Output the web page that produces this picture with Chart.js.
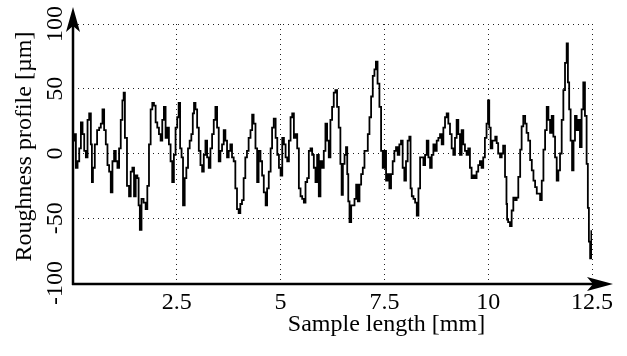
<!DOCTYPE html>
<html>
<head>
<meta charset="utf-8">
<script src="https://cdn.jsdelivr.net/npm/chart.js@4"></script>
<style>
  html, body { margin: 0; padding: 0; background: #fff; }
  #wrap { width: 627px; height: 356px; position: relative; }
</style>
</head>
<body>
<div id="wrap"><canvas id="profileChart"></canvas></div>
<script>
// Sample position along the profile [mm]
const sampleMm = [
  0.02, 0.05, 0.09, 0.13, 0.17, 0.21, 0.25, 0.29, 0.33, 0.37, 0.41, 0.45, 0.46, 0.50, 0.55, 0.61, 0.65, 0.69, 0.73, 0.77,
  0.81, 0.85, 0.89, 0.93, 0.97, 1.01, 1.05, 1.09, 1.13, 1.17, 1.21, 1.23, 1.27, 1.33, 1.37, 1.41, 1.45, 1.49, 1.53, 1.57,
  1.59, 1.63, 1.67, 1.73, 1.77, 1.81, 1.85, 1.89, 1.93, 1.97, 2.01, 2.05, 2.09, 2.13, 2.17, 2.21, 2.25, 2.29, 2.33, 2.37,
  2.41, 2.45, 2.49, 2.53, 2.56, 2.60, 2.63, 2.67, 2.71, 2.75, 2.79, 2.83, 2.87, 2.90, 2.93, 2.97, 3.01, 3.05, 3.09, 3.13,
  3.17, 3.21, 3.25, 3.29, 3.33, 3.37, 3.41, 3.45, 3.49, 3.53, 3.57, 3.61, 3.65, 3.69, 3.73, 3.77, 3.81, 3.85, 3.89, 3.93,
  3.97, 4.01, 4.05, 4.09, 4.13, 4.17, 4.21, 4.25, 4.30, 4.33, 4.37, 4.42, 4.45, 4.49, 4.54, 4.57, 4.62, 4.66, 4.69, 4.74,
  4.78, 4.81, 4.86, 4.90, 4.94, 4.98, 5.02, 5.06, 5.10, 5.14, 5.18, 5.22, 5.26, 5.30, 5.34, 5.38, 5.42, 5.46, 5.50, 5.54,
  5.58, 5.62, 5.66, 5.70, 5.74, 5.78, 5.82, 5.86, 5.90, 5.94, 5.98, 6.02, 6.06, 6.10, 6.14, 6.18, 6.22, 6.26, 6.30, 6.34,
  6.38, 6.42, 6.46, 6.48, 6.52, 6.56, 6.59, 6.62, 6.64, 6.68, 6.72, 6.76, 6.80, 6.84, 6.88, 6.92, 6.96, 7.00, 7.04, 7.08,
  7.12, 7.16, 7.20, 7.24, 7.28, 7.31, 7.36, 7.40, 7.44, 7.48, 7.52, 7.56, 7.60, 7.64, 7.68, 7.72, 7.76, 7.80, 7.84, 7.88,
  7.92, 7.96, 8.00, 8.04, 8.08, 8.12, 8.14, 8.18, 8.22, 8.26, 8.30, 8.34, 8.38, 8.42, 8.46, 8.50, 8.54, 8.58, 8.62, 8.66,
  8.70, 8.74, 8.78, 8.82, 8.86, 8.90, 8.94, 8.98, 9.02, 9.06, 9.10, 9.14, 9.18, 9.22, 9.26, 9.30, 9.34, 9.38, 9.42, 9.46,
  9.50, 9.54, 9.58, 9.62, 9.66, 9.70, 9.74, 9.78, 9.82, 9.86, 9.90, 9.94, 9.98, 10.01, 10.04, 10.08, 10.12, 10.15, 10.19, 10.22,
  10.26, 10.31, 10.34, 10.38, 10.43, 10.45, 10.46, 10.50, 10.55, 10.58, 10.63, 10.67, 10.70, 10.75, 10.79, 10.82, 10.87, 10.91, 10.94, 10.99,
  11.03, 11.07, 11.11, 11.15, 11.19, 11.23, 11.27, 11.31, 11.35, 11.39, 11.43, 11.47, 11.51, 11.55, 11.59, 11.63, 11.67, 11.71, 11.75, 11.79,
  11.83, 11.87, 11.91, 11.93, 11.97, 12.00, 12.04, 12.07, 12.11, 12.15, 12.19, 12.23, 12.27, 12.31, 12.35, 12.39, 12.41, 12.44, 12.47, 12.50
];

// Roughness profile height [um]
const profileUm = [
  10, 15, -11, -6, 4, 24, 15, 2, -3, 26, 31, 7, -22, -11, 7, 18, 20, 23, 34, 18,
  7, -9, -14, -30, -6, 2, -6, -11, 4, 26, 41, 47, 12, -25, -33, -14, -11, -33, -17, -19,
  -40, -59, -35, -38, -43, -25, 7, 34, 39, 37, 24, 20, 15, 10, 26, 36, 12, 20, 7, -6,
  -22, -1, 20, 28, 39, 4, -3, -40, -19, -11, 4, 10, 15, 31, 39, 34, 20, 2, -9, -14,
  -1, 10, -3, -11, 4, 15, 26, 36, 20, -6, 2, 7, 18, 10, -3, 2, 7, -3, -6, -27,
  -43, -46, -39, -36, -19, -3, 2, 12, 18, 30, 23, 4, -22, 2, -6, -17, -30, -40, -27, -14,
  4, 20, 27, 12, -1, -11, -17, 12, 7, -3, -6, 10, 28, 31, 12, 15, 4, -27, -33, -35,
  -38, -22, -19, 2, 4, -1, -11, -22, -1, -33, -6, -11, 2, 23, 10, -3, 26, 36, 47, 49,
  36, 20, -8, -32, -8, -1, 5, -16, -37, -53, -40, -40, -35, -24, -37, -24, -16, -11, 2, 2,
  15, 28, 44, 60, 65, 71, 54, 36, 2, -11, 2, -21, -16, -27, -16, -6, 2, 5, -1, 7,
  10, -11, -21, -6, 10, 13, -27, -33, -35, -38, -48, -27, -3, -3, -9, -1, 10, -3, -11, -1,
  7, 2, 10, 12, 15, 7, 20, 28, 31, 23, 15, 4, -1, 12, 26, 15, -1, 18, 7, 2,
  -1, 4, -11, -19, -17, -19, -14, -9, -6, -11, -3, 12, 23, 41, 20, 4, 10, 10, 13, 8,
  0, -3, 0, 6, -18, -39, -51, -53, -56, -44, -34, -36, -34, -18, 3, 21, 29, 23, 16, 10,
  -5, -13, -21, -26, -31, -31, -36, -21, 3, 18, 36, 26, 16, 29, 13, -3, -21, -13, 0, 26,
  49, 70, 85, 55, 34, 10, -13, 10, 29, 18, 26, 5, 34, 55, 29, -8, -42, -68, -81, -60
];

// Axis ticks and titles
const xTickValues = [2.5, 5, 7.5, 10, 12.5];
const yTickValues = [-100, -50, 0, 50, 100];
const xTitle = 'Sample length [mm]';
const yTitle = 'Roughness profile [µm]';

const FONT_FAMILY = "'Liberation Serif', 'Times New Roman', serif";
Chart.defaults.font.family = FONT_FAMILY;
Chart.defaults.color = '#000';

// Thick axes with arrow heads, rotated y tick labels and the axis titles
const axesPlugin = {
    id: 'axesPlugin',
    afterDraw(chart) {
        const ctx = chart.ctx;
        const area = chart.chartArea;
        const yScale = chart.scales.y;
        const x0 = area.left;
        const y0 = area.bottom + 1;

        ctx.save();
        ctx.strokeStyle = '#000';
        ctx.fillStyle = '#000';
        ctx.lineWidth = 2.5;
        ctx.setLineDash([]);

        // y axis
        ctx.beginPath();
        ctx.moveTo(x0, y0 + 1);
        ctx.lineTo(x0, area.top - 4);
        ctx.stroke();
        // x axis
        ctx.beginPath();
        ctx.moveTo(x0 - 1, y0);
        ctx.lineTo(area.right + 12, y0);
        ctx.stroke();

        // arrow head up
        const tipY = area.top - 17;
        ctx.beginPath();
        ctx.moveTo(x0, tipY);
        ctx.lineTo(x0 + 7, tipY + 25);
        ctx.lineTo(x0, tipY + 19);
        ctx.lineTo(x0 - 7, tipY + 25);
        ctx.closePath();
        ctx.fill();

        // arrow head right
        const tipX = area.right + 21;
        ctx.beginPath();
        ctx.moveTo(tipX, y0);
        ctx.lineTo(tipX - 26, y0 - 7);
        ctx.lineTo(tipX - 20, y0);
        ctx.lineTo(tipX - 26, y0 + 7);
        ctx.closePath();
        ctx.fill();

        // y tick labels, rotated to read bottom-up
        ctx.font = '24px ' + FONT_FAMILY;
        ctx.textAlign = 'center';
        ctx.textBaseline = 'alphabetic';
        yTickValues.forEach(v => {
            const py = yScale.getPixelForValue(v);
            ctx.save();
            ctx.translate(x0 - 11, py);
            ctx.rotate(-Math.PI / 2);
            ctx.fillText(String(v), 0, 0);
            ctx.restore();
        });

        // y title
        ctx.save();
        ctx.translate(31, (area.top + area.bottom) / 2 - 7);
        ctx.rotate(-Math.PI / 2);
        ctx.fillText(yTitle, 0, 0);
        ctx.restore();

        // x title, sits right of the plot centre as in the source figure
        ctx.fillText(xTitle, (area.left + area.right) / 2 + 54, area.bottom + 48);
        ctx.restore();
    }
};

new Chart(document.getElementById('profileChart'), {
    type: 'line',
    data: {
        datasets: [{
            label: 'Roughness profile',
            data: sampleMm.map((x, i) => ({ x: x, y: profileUm[i] })),
            borderColor: '#000',
            borderWidth: 1.8,
            pointRadius: 0,
            stepped: 'middle',
            fill: false
        }]
    },
    options: {
        responsive: true,
        maintainAspectRatio: false,
        animation: false,
        layout: {
            padding: { left: 0, right: 35, top: 24, bottom: 0 }
        },
        plugins: {
            legend: { display: false },
            tooltip: { enabled: false }
        },
        scales: {
            x: {
                type: 'linear',
                min: 0,
                max: 12.5,
                afterFit: (scale) => { scale.height = 73; },
                afterBuildTicks: (scale) => {
                    scale.ticks = xTickValues.map(v => ({ value: v }));
                },
                ticks: {
                    padding: 5,
                    maxRotation: 0,
                    font: { size: 24 },
                    color: '#000',
                    callback: (v) => String(v)
                },
                grid: {
                    color: '#222',
                    lineWidth: 1,
                    drawTicks: false
                },
                border: { display: false, dash: [1, 4] }
            },
            y: {
                type: 'linear',
                min: -100,
                max: 100,
                afterFit: (scale) => { scale.width = 73; },
                afterBuildTicks: (scale) => {
                    scale.ticks = yTickValues.map(v => ({ value: v }));
                },
                ticks: { display: false },
                grid: {
                    color: '#222',
                    lineWidth: 1,
                    drawTicks: false
                },
                border: { display: false, dash: [1, 4] }
            }
        }
    },
    plugins: [axesPlugin]
});
</script>
</body>
</html>
